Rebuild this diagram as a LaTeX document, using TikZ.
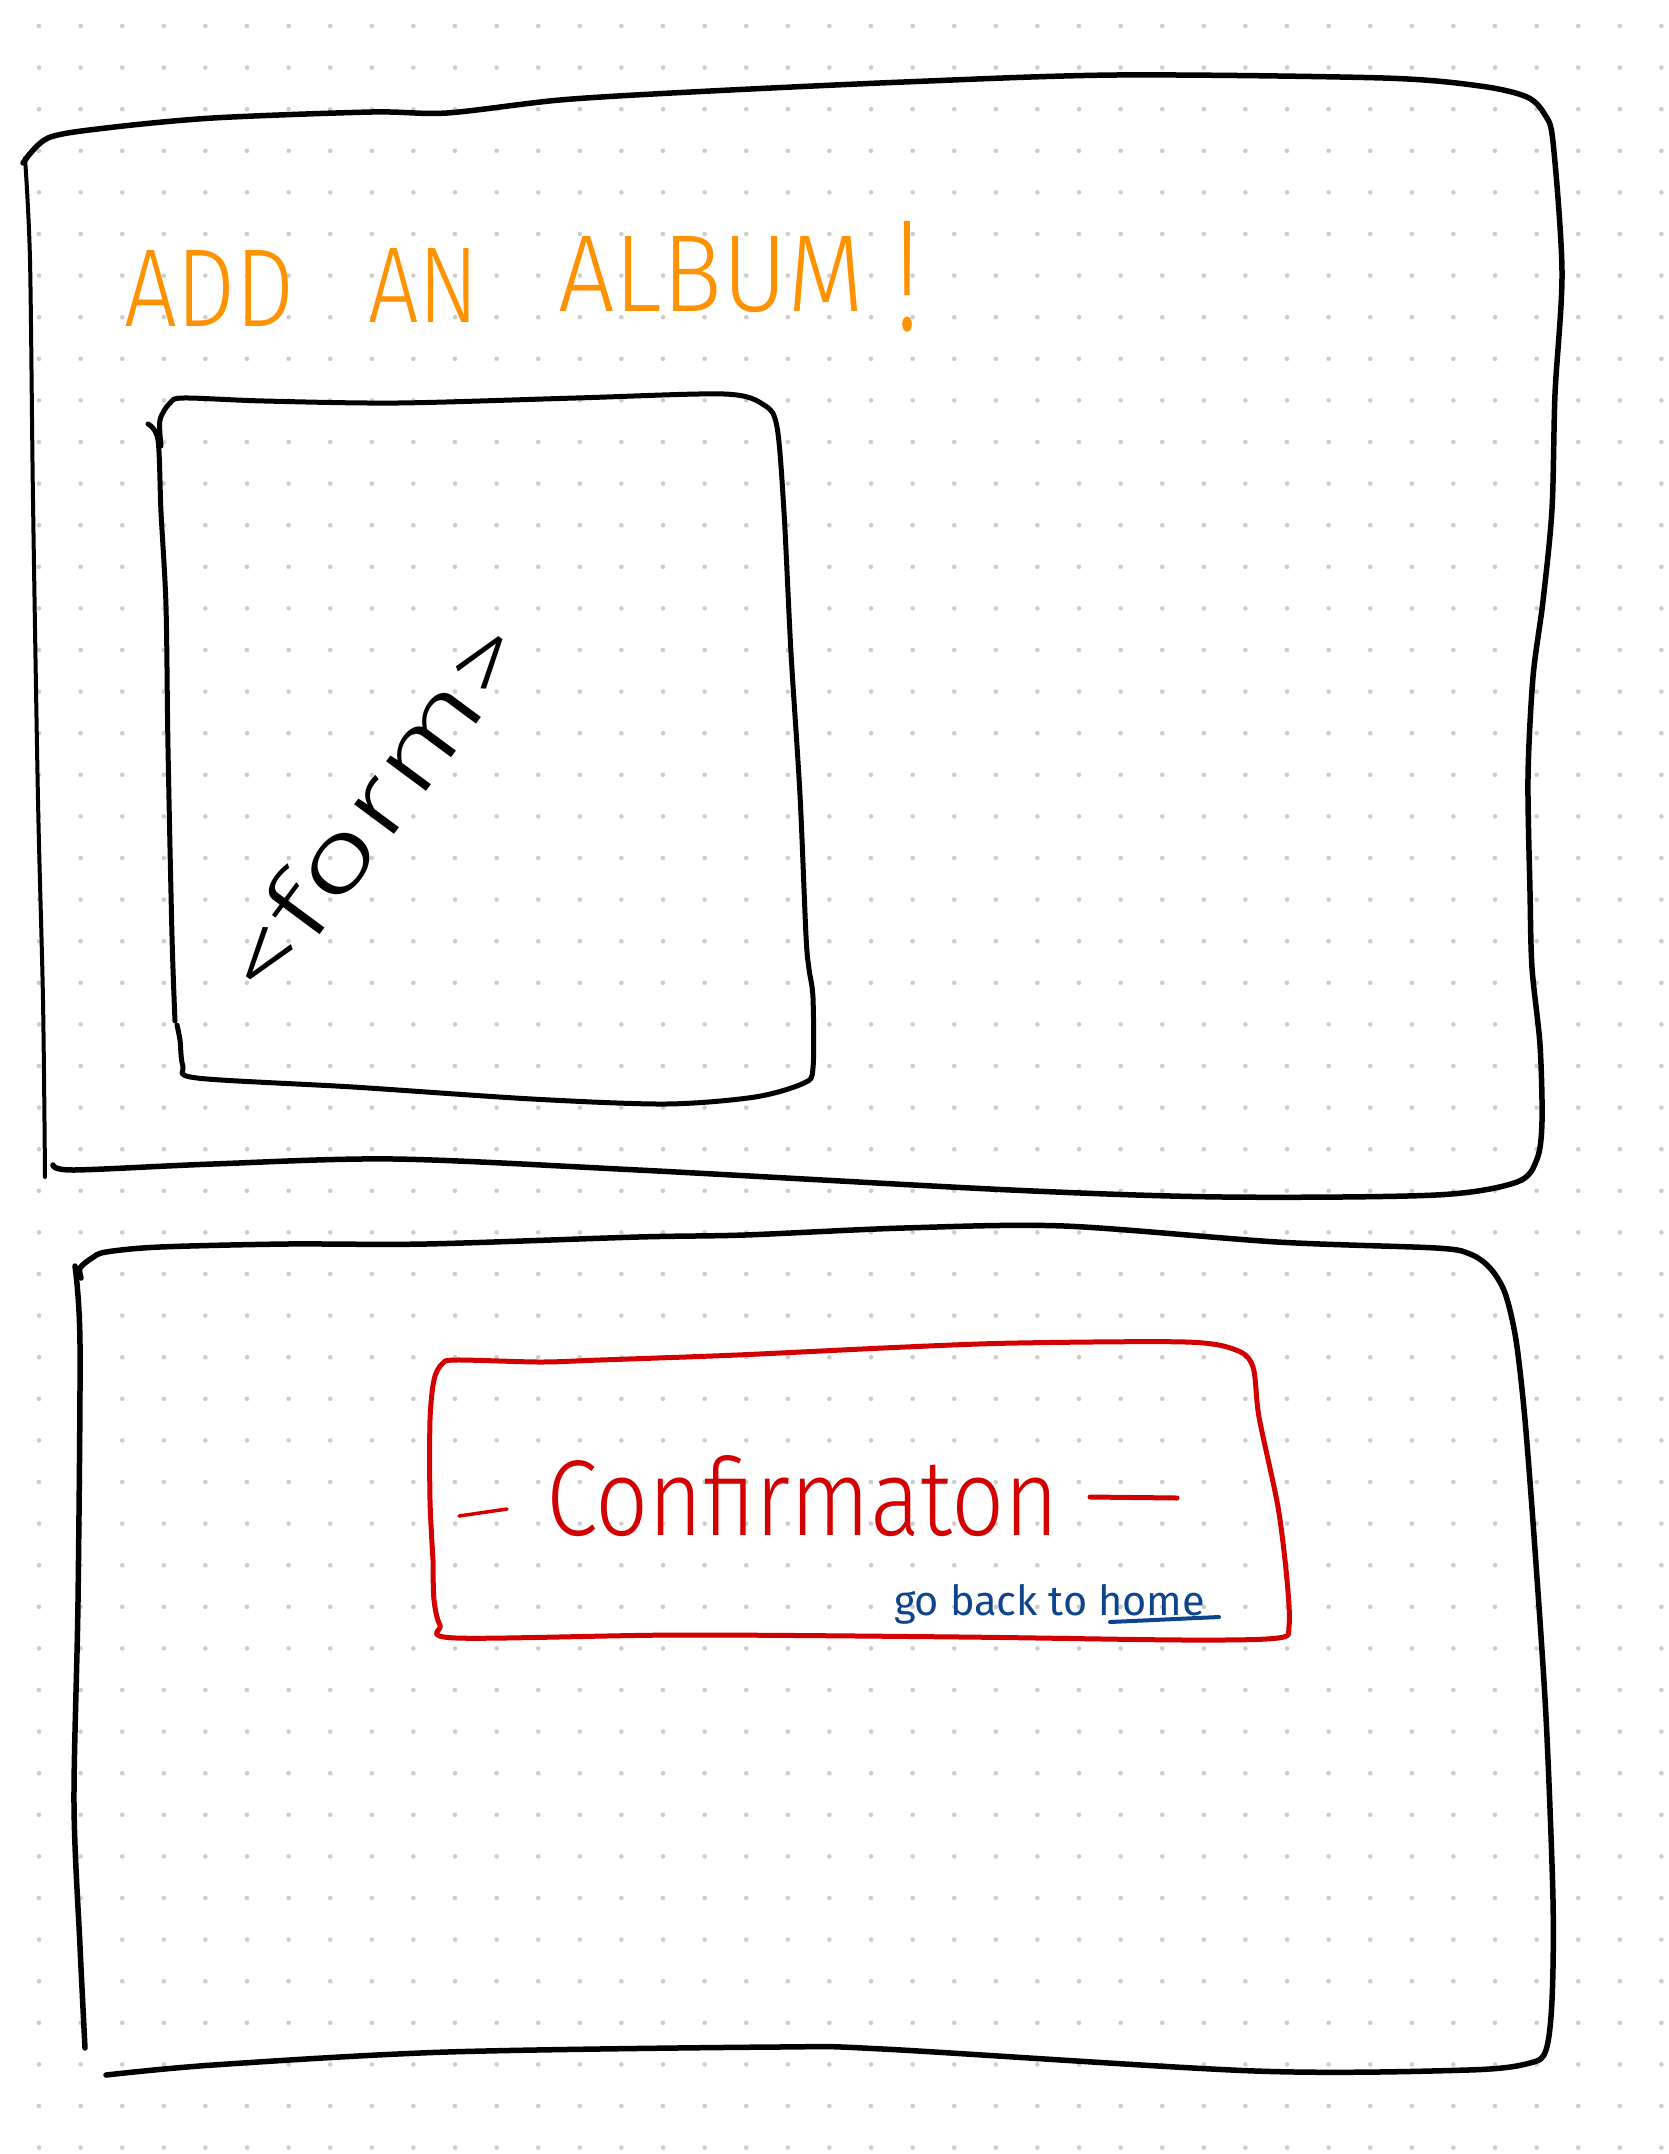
\documentclass[tikz,border=0pt]{standalone}
\usepackage{fontspec}
\setmainfont{Fira Sans}[UprightFont={* Light}]
\newfontfamily\penfont{Fira Sans}
\definecolor{penorange}{RGB}{255,146,0}
\definecolor{penred}{RGB}{210,0,0}
\definecolor{penblue}{RGB}{14,68,140}
\definecolor{dotgray}{RGB}{205,205,205}
\begin{document}
\begin{tikzpicture}[x=1pt,y=-1pt,line cap=round,line join=round,
  sketch/.style={draw=black,line width=5.5pt},
  thinsketch/.style={draw=black,line width=4pt},
  redsketch/.style={draw=penred,line width=5pt},
  lbl/.style={inner sep=0pt,outer sep=0pt}]
\useasboundingbox (0,0) rectangle (1668,2154);
\fill[white] (0,0) rectangle (1668,2154);
% dot grid
\foreach \i in {0,...,39}{
  \foreach \j in {0,...,51}{
    \fill[dotgray] (39+41.6*\i,26+41.6*\j) circle (2.3pt);
  }
}
% ---------- box 1 ----------
\draw[thinsketch] plot[smooth,tension=0.5] coordinates {(25,158)(30,260)(33,500)(38,800)(43,1000)(45,1177)};
\draw[sketch] plot[smooth,tension=0.5] coordinates {(23,163)(48,138)(106,128)(213,118)(372,112)(447,113)(560,100)(691,92)(904,82)(1117,75)(1383,78)(1480,86)(1527,97)(1545,115)(1553,142)(1562,272)(1555,394)(1552,509)(1543,601)(1533,677)(1528,777)(1530,892)(1532,968)(1540,1045)(1542,1121)(1537,1159)(1517,1182)(1436,1195)(1223,1197)(1011,1190)(638,1170)(394,1159)(213,1164)(74,1170)(53,1165)};
% title
\node[lbl,anchor=south west,text=penorange] (tadd) at (124,326) {\resizebox{171pt}{76pt}{ADD}};
\node[lbl,anchor=south west,text=penorange] (tan) at (368,322) {\resizebox{111pt}{74pt}{AN}};
\node[lbl,anchor=south west,text=penorange] (talbum) at (558,313) {\resizebox{306pt}{75pt}{ALBUM}};
\node[lbl,anchor=south west,text=penorange] (texcl) at (895,332) {\resizebox{24pt}{109pt}{!}};
% form box
\draw[sketch,line width=5pt] plot[smooth,tension=0.5] coordinates {(148,424)(158,440)(161,512)(166,606)(168,748)(172,936)(175,1021)};
\draw[sketch,line width=5pt] plot[smooth,tension=0.5] coordinates {(161,446)(160,420)(170,403)(184,398)(264,401)(398,403)(576,398)(724,394)(764,405)(777,427)(784,512)(791,653)(800,795)(806,936)(809,969)(813,998)(813,1068)(804,1083)(755,1097)(666,1104)(532,1099)(353,1087)(197,1078)(183,1066)(180,1040)(177,1025)};
\node[lbl,rotate=53.4] (tform) at (372,806) {\scalebox{1.5}[1]{\fontsize{95pt}{100pt}\selectfont <form>}};
% ---------- box 2 ----------
\draw[sketch] plot[smooth,tension=0.5] coordinates {(75,1266)(80,1344)(78,1602)(74,1803)(80,1946)(85,2048)};
\draw[sketch] plot[smooth,tension=0.5] coordinates {(81,1278)(80,1268)(92,1258)(106,1252)(160,1247)(287,1244)(426,1244)(638,1237)(745,1235)(904,1228)(1064,1226)(1277,1242)(1436,1248)(1470,1254)(1490,1268)(1505,1293)(1516,1340)(1525,1420)(1535,1550)(1546,1717)(1553,1900)(1552,2000)(1546,2050)(1530,2063)(1468,2070)(1255,2071)(883,2049)(777,2047)(447,2052)(213,2065)(106,2075)};
% red confirmation box
\draw[redsketch] plot[smooth,tension=0.5] coordinates {(433,1560)(430,1500)(430,1420)(434,1380)(442,1364)(456,1360)(540,1362)(600,1360)(737,1355)(905,1347)(1017,1343)(1186,1342)(1236,1350)(1253,1367)(1259,1417)(1278,1507)(1287,1580)(1289,1626)(1278,1638)(1186,1640)(961,1637)(681,1635)(456,1638)(440,1625)(434,1600)(433,1560)};
\coordinate (dl1) at (459,1516);
\coordinate (dl2) at (507,1509);
\coordinate (dr1) at (1090,1497);
\coordinate (dr2) at (1177,1498);
\draw[penred,line width=3.5pt] (dl1) -- (dl2);
\draw[penred,line width=5pt] (dr1) -- (dr2);
\node[lbl,anchor=south west,text=penred] (tconf) at (546,1537) {\resizebox{513pt}{80pt}{Confirmaton}};
\node[lbl,anchor=base west,text=penblue] (thome) at (894,1615) {\resizebox{311pt}{!}{\penfont go back to home}};
\coordinate (u1) at (1110,1622);
\coordinate (u2) at (1219,1617);
\draw[penblue,line width=4pt] (u1) -- (u2);
\end{tikzpicture}
\end{document}
